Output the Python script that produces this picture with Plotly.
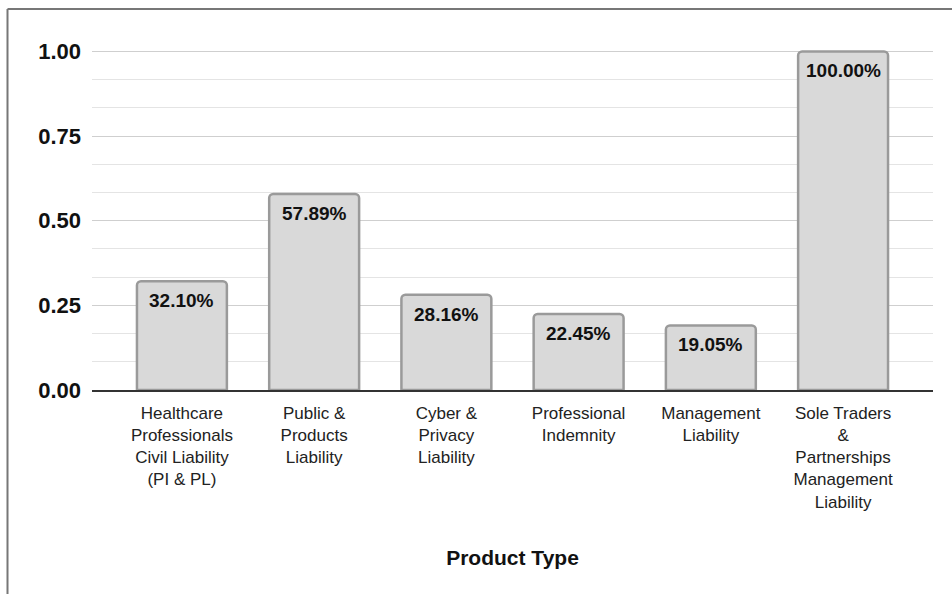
import plotly.graph_objects as go

categories = [
    "Healthcare<br>Professionals<br>Civil Liability<br>(PI & PL)",
    "Public &<br>Products<br>Liability",
    "Cyber &<br>Privacy<br>Liability",
    "Professional<br>Indemnity",
    "Management<br>Liability",
    "Sole Traders<br>&<br>Partnerships<br>Management<br>Liability",
]
values = [0.3210, 0.5789, 0.2816, 0.2245, 0.1905, 1.0000]
y_ticks = [0.0, 0.25, 0.5, 0.75, 1.0]

W, H = 952, 594
ml, mr, mt, mb = 92, 19, 48, 204
pw, ph = W - ml - mr, H - mt - mb

FONT = "Liberation Sans, Arial, sans-serif"

fig = go.Figure(
    go.Bar(
        x=categories,
        y=values,
        width=0.68,
        marker=dict(color="#d9d9d9", line=dict(color="#9a9a9a", width=2.5)),
        cliponaxis=False,
        hoverinfo="skip",
    )
)

annotations = [
    dict(
        x=c, y=v, xref="x", yref="y",
        text="<b>{:.2%}</b>".format(v),
        showarrow=False, yanchor="top", yshift=-7,
        font=dict(family=FONT, size=19, color="#111111"),
    )
    for c, v in zip(categories, values)
]


def px_x(x):
    return (x - ml) / pw


def px_y(y):
    return 1 - (y - mt) / ph


fig.update_layout(
    width=W,
    height=H,
    margin=dict(l=ml, r=mr, t=mt, b=mb),
    paper_bgcolor="white",
    plot_bgcolor="white",
    barcornerradius=4,
    showlegend=False,
    font=dict(family=FONT, color="#111111"),
    annotations=annotations,
    xaxis=dict(
        range=[-0.68, 5.68],
        showgrid=False,
        showline=True,
        linecolor="#333333",
        linewidth=1.5,
        ticks="",
        ticklabelstandoff=7,
        tickfont=dict(family=FONT, size=17, color="#222222"),
        title=dict(
            text="<b>Product Type</b>",
            font=dict(family=FONT, size=21, color="#111111"),
            standoff=40,
        ),
        zeroline=False,
    ),
    yaxis=dict(
        range=[0, 1.01],
        tickvals=y_ticks,
        tickformat=".2f",
        tickfont=dict(family=FONT, size=22, color="#111111", weight="bold"),
        ticklabelstandoff=10,
        showgrid=True,
        gridcolor="#cfcfcf",
        gridwidth=1,
        zeroline=False,
        showline=False,
        ticks="",
        minor=dict(dtick=0.25 / 3, tick0=0, showgrid=True, gridcolor="#e4e4e4", gridwidth=1),
        title=None,
    ),
    shapes=[
        dict(type="line", xref="paper", yref="paper",
             x0=px_x(7.5), x1=px_x(960), y0=px_y(9), y1=px_y(9),
             line=dict(color="#777777", width=2)),
        dict(type="line", xref="paper", yref="paper",
             x0=px_x(7.5), x1=px_x(7.5), y0=px_y(9), y1=px_y(600),
             line=dict(color="#777777", width=2)),
    ],
)

fig.write_html("out.html")
